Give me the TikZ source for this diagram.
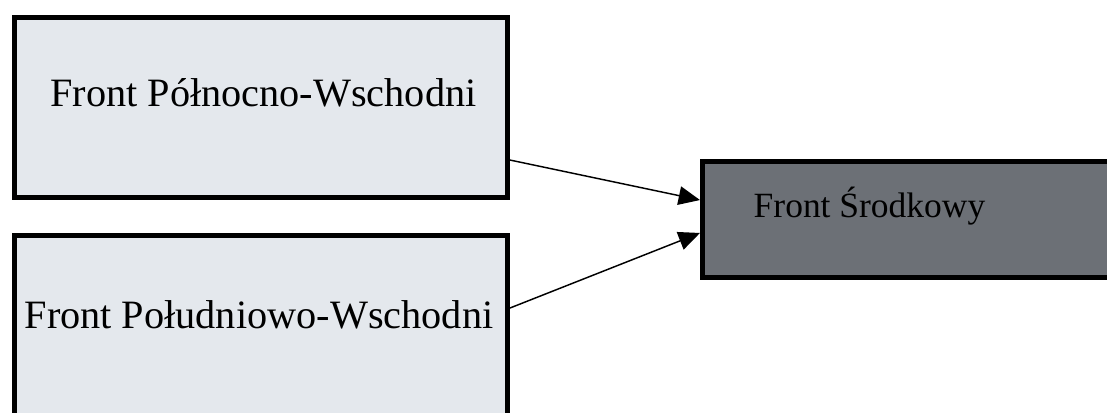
\documentclass[tikz,border=0pt]{standalone}
\usepackage{fontspec}
\setmainfont{Liberation Serif}
\usetikzlibrary{arrows.meta}

\definecolor{boxlight}{RGB}{228,232,237}
\definecolor{boxdark}{RGB}{108,112,118}

\tikzset{every picture/.style={line width=0.75pt}}
\tikzset{
  frontbox/.style={draw=black, line width=3.75pt, fill=boxlight, inner sep=0pt},
  frontdark/.style={frontbox, fill=boxdark},
  fronttext/.style={anchor=base, inner sep=0pt, font=\fontsize{30.2}{36}\selectfont},
  conn/.style={draw=black, line width=1.1pt, -{Triangle[length=16pt,width=14pt]}}
}

\begin{document}
\begin{tikzpicture}[x=0.75pt,y=0.75pt,yscale=-1,xscale=1]
\useasboundingbox (0,0) rectangle (1107,412);

%Boxes
\node [frontbox, minimum width=369.75pt, minimum height=135pt] (pn) at (261,107.5) {};
\node [frontbox, minimum width=369.75pt, minimum height=140.25pt] (pd) at (261,329) {};
\node [frontdark, minimum width=309.4pt, minimum height=87pt] (sr) at (908.75,219.5) {};

% Text Node
\node [fronttext] (pntext) at (263.5,106) {Front Północno-Wschodni};
% Text Node
\node [fronttext] (pdtext) at (259,328) {Front Południowo-Wschodni};
% Text Node
\node [fronttext, font=\fontsize{26.6}{31}\selectfont] (srtext) at (869.5,217) {Front Środkowy};

% Connection
\draw [conn] ([yshift=39.4pt]pn.east) -- ([yshift=-14.6pt]sr.west);
% Connection
\draw [conn] ([yshift=-15.75pt]pd.east) -- ([yshift=10.1pt]sr.west);

\end{tikzpicture}
\end{document}
